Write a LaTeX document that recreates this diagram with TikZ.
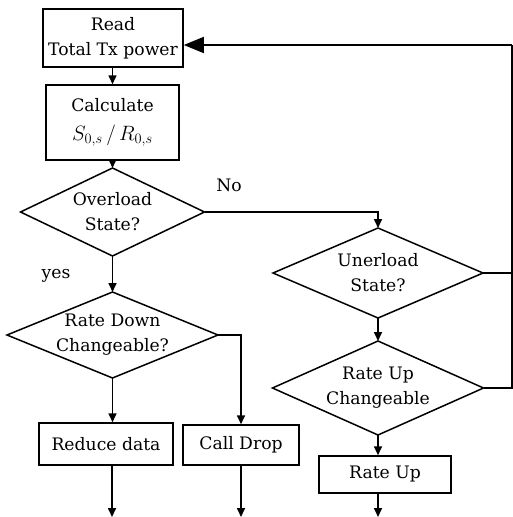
\documentclass[tikz,border=0pt]{standalone}
\usepackage{fontspec}
\setmainfont{DejaVu Serif}
\usetikzlibrary{shapes.geometric,arrows.meta,calc}
\begin{document}
\begin{tikzpicture}[x=1pt,y=-1pt,
  every node/.style={font=\fontsize{17.2}{25}\selectfont},
  procbox/.style={draw,line width=1.5pt,inner sep=0pt,align=center},
  decision/.style={draw,diamond,line width=1.5pt,inner sep=0pt,outer sep=0pt},
  txt/.style={align=center,inner sep=0pt},
  conn/.style={line width=1.6pt},
  arr/.style={line width=1.6pt,-{Triangle[length=9pt,width=8pt]}},
  bigarr/.style={line width=1.6pt,-{Triangle[length=20pt,width=16pt]}}]
\useasboundingbox (0,0) rectangle (513,517);
% boxes
\node[procbox,minimum width=140pt,minimum height=58pt] (read) at (113,38) {Read\\Total Tx power};
\node[procbox,minimum width=133pt,minimum height=75pt] (calc) at (112.5,122.5) {Calculate\\[4pt]\fontsize{21}{24}\selectfont$S_{0,s}\,/\,R_{0,s}$};
\node[decision,minimum width=184pt,minimum height=88pt] (d1) at (112.5,212) {};
\node[txt] at (d1) {Overload\\State?};
\node[decision,minimum width=211pt,minimum height=86pt] (d2) at (112.5,335) {};
\node[txt] at (d2) {Rate Down\\Changeable?};
\node[procbox,minimum width=134pt,minimum height=42pt] (rd) at (106,444) {Reduce data};
\node[procbox,minimum width=116pt,minimum height=40pt] (cd) at (241,445) {Call Drop};
\node[decision,minimum width=210pt,minimum height=90pt] (d3) at (378,273) {};
\node[txt] at (d3) {Unerload\\State?};
\node[decision,minimum width=211pt,minimum height=94pt] (d4) at (378,388) {};
\node[txt] at (d4) {Rate Up\\Changeable};
\node[procbox,minimum width=132pt,minimum height=37pt] (ru) at (385,474.5) {Rate Up};
% labels
\node (no) at (229,185) {No};
\node (yes) at (56,276) {yes};
% free ends
\coordinate (e1) at (112,517);
\coordinate (e2) at (241,517);
\coordinate (e3) at (378,517);
\coordinate (fb) at (512,45);
% connectors
\draw[arr] (read.south -| calc.north) -- (calc.north);
\draw[arr] (calc.south) -- (d1.north);
\draw[arr] (d1.south) -- (d2.north);
\draw[arr] (d1.east) -| (d3.north);
\draw[arr] (d3.south) -- (d4.north);
\draw[arr] (d2.east) -| (cd.north);
\draw[arr] (d2.south) -- (d2.south |- rd.north);
\draw[arr] (d4.south) -- (d4.south |- ru.north);
\draw[arr] (rd.south -| e1) -- (e1);
\draw[arr] (cd.south) -- (e2);
\draw[arr] (ru.south -| e3) -- (e3);
\draw[conn] (d3.east) -- (d3.east -| fb);
\draw[conn] (d4.east) -- (d4.east -| fb) -- (fb);
\draw[bigarr] (fb) -- (fb -| read.east);
\end{tikzpicture}
\end{document}
